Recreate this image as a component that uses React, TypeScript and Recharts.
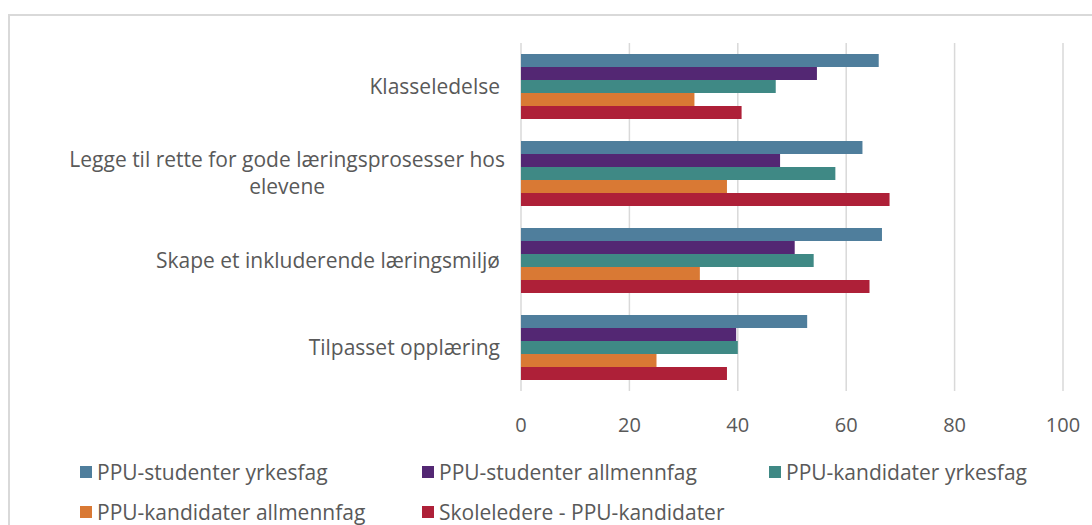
import React from "react";
import { BarChart, Bar, XAxis, YAxis, CartesianGrid, Legend } from "recharts";

const categories = [
  "Klasseledelse",
  "Legge til rette for gode læringsprosesser hos elevene",
  "Skape et inkluderende læringsmiljø",
  "Tilpasset opplæring",
];
const seriesNames = [
  "PPU-studenter yrkesfag",
  "PPU-studenter allmennfag",
  "PPU-kandidater yrkesfag",
  "PPU-kandidater allmennfag",
  "Skoleledere - PPU-kandidater",
];
const studYrkesfag = [66, 63, 66.6, 52.8];
const studAllmennfag = [54.6, 47.8, 50.5, 39.7];
const kandYrkesfag = [47, 58, 54, 40];
const kandAllmennfag = [32, 38, 33, 25];
const skoleledere = [40.7, 68, 64.3, 38];
const xTicks = [0, 20, 40, 60, 80, 100];

const colors = ["#4f7e9c", "#532773", "#3f8985", "#d97934", "#ae2038"];
const keys = ["s1", "s2", "s3", "s4", "s5"];
const seriesValues = [studYrkesfag, studAllmennfag, kandYrkesfag, kandAllmennfag, skoleledere];

const data = categories.map((c, i) => {
  const row: any = { name: c };
  keys.forEach((k, j) => (row[k] = seriesValues[j][i]));
  return row;
});

const FONT = "'Open Sans', sans-serif";
const TEXT = "#595959";

function wrap(s: string, max: number): string[] {
  const words = s.split(" ");
  const lines: string[] = [];
  let cur = "";
  for (const w of words) {
    const t = cur ? cur + " " + w : w;
    if (t.length > max && cur) {
      lines.push(cur);
      cur = w;
    } else cur = t;
  }
  if (cur) lines.push(cur);
  return lines;
}

const CatTick = (props: any) => {
  const { x, y, payload } = props;
  const lines = wrap(String(payload.value), 46);
  const lh = 27;
  const charW = 9.46;
  const maxLen = Math.max(...lines.map((l) => l.length));
  const blockW = maxLen * charW;
  const startY = y - ((lines.length - 1) * lh) / 2;
  return (
    <g>
      {lines.map((l, i) => (
        <text
          key={i}
          x={lines.length > 1 ? x - blockW / 2 : x}
          y={startY + i * lh}
          dy="0.35em"
          textAnchor={lines.length > 1 ? "middle" : "end"}
          fontFamily={FONT}
          fontSize={21}
          fill={TEXT}
        >
          {l}
        </text>
      ))}
    </g>
  );
};

const legendPos = [
  { x: 80, y: 472 },
  { x: 422, y: 472 },
  { x: 769, y: 472 },
  { x: 80, y: 512 },
  { x: 422, y: 512 },
];

const LegendContent = () => (
  <div style={{ position: "relative", width: 1092, height: 525 }}>
    {seriesNames.map((n, i) => (
      <div
        key={n}
        style={{
          position: "absolute",
          left: legendPos[i].x,
          top: legendPos[i].y - 11,
          height: 22,
          lineHeight: "22px",
          display: "flex",
          alignItems: "center",
          whiteSpace: "nowrap",
          fontFamily: FONT,
          fontSize: 21,
          color: TEXT,
        }}
      >
        <span style={{ display: "inline-block", width: 12, height: 12, background: colors[i], marginRight: 5 }} />
        {n}
      </div>
    ))}
  </div>
);

export default function App() {
  return (
    <div style={{ position: "absolute", left: 0, top: 0, width: 1092, height: 525, background: "#fff", overflow: "hidden" }}>
      <div
        style={{
          position: "absolute",
          left: 8,
          top: 14,
          width: 1100,
          height: 530,
          border: "2px solid #d9d9d9",
          boxSizing: "border-box",
        }}
      />
      <div style={{ position: "absolute", left: 0, top: 0 }}>
        <BarChart
          width={1092}
          height={525}
          data={data}
          layout="vertical"
          margin={{ top: 43, right: 29, left: 0, bottom: 94 }}
          barGap={0}
        >
          <CartesianGrid horizontal={false} stroke="#d9d9d9" strokeWidth={1.5} />
          <XAxis
            type="number"
            domain={[0, 100]}
            ticks={xTicks}
            axisLine={false}
            tickLine={false}
            tickSize={0}
            tickMargin={27}
            height={40}
            tick={{ fontFamily: FONT, fontSize: 20, fill: TEXT }}
          />
          <YAxis
            type="category"
            dataKey="name"
            width={521}
            axisLine={false}
            tickLine={false}
            tickSize={0}
            tickMargin={21}
            tick={<CatTick />}
          />
          <Legend
            layout="horizontal"
            verticalAlign="middle"
            align="center"
            wrapperStyle={{ position: "absolute", left: 0, top: 0, width: 1092, height: 525, pointerEvents: "none" }}
            content={<LegendContent />}
          />
          {keys.map((k, i) => (
            <Bar
              key={k}
              dataKey={k}
              name={seriesNames[i]}
              fill={colors[i]}
              barSize={13}
              isAnimationActive={false}
            />
          ))}
        </BarChart>
      </div>
    </div>
  );
}
